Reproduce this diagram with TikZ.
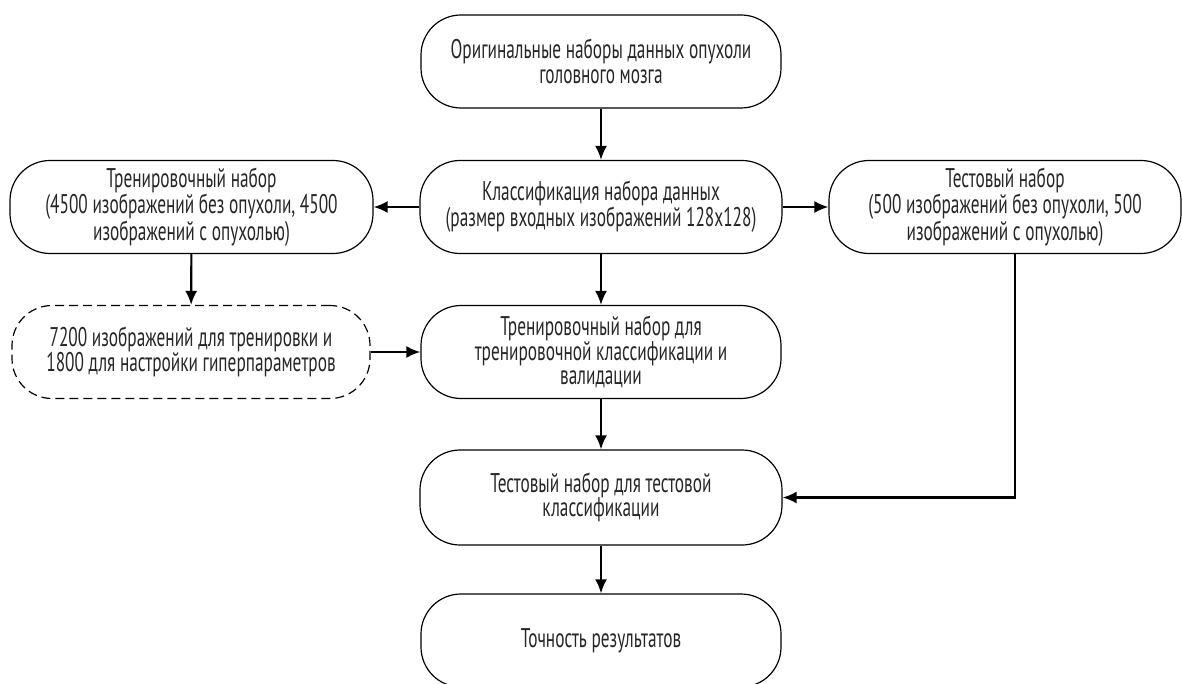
\documentclass[tikz,border=0pt]{standalone}
\usepackage{fontspec}
\setmainfont[FakeStretch=0.64]{PT Sans}
\usetikzlibrary{arrows.meta}
\begin{document}
\begin{tikzpicture}[x=1pt,y=-1pt,
  box/.style={draw, line width=1.2pt, rounded corners=40pt, minimum width=360pt, minimum height=93pt, align=center, font=\fontsize{27}{24.5}\selectfont, text=black!85, inner sep=0pt},
  dbox/.style={box, dash pattern=on 9pt off 5pt},
  arr/.style={line width=2.1pt, -{Latex[length=14pt,width=12pt]}}]
\useasboundingbox (0,0) rectangle (1182,684);
\node[box] (orig) at (601,61.5) {Оригинальные наборы данных опухоли\\головного мозга};
\node[box, minimum width=363pt] (train) at (191.5,207) {Тренировочный набор\\(4500 изображений без опухоли, 4500\\изображений с опухолью)};
\node[box, minimum width=362pt] (cls) at (601,207) {Классификация набора данных\\(размер входных изображений 128x128)};
\node[box, minimum width=352pt] (test) at (1005,207) {Тестовый набор\\(500 изображений без опухоли, 500\\изображений с опухолью)};
\node[dbox, minimum width=358pt] (split) at (191,352) {7200 изображений для тренировки и\\1800 для настройки гиперпараметров};
\node[box] (tcls) at (601,352) {Тренировочный набор для\\тренировочной классификации и\\валидации};
\node[box, minimum width=362pt, minimum height=95pt] (ecls) at (601,497.5) {Тестовый набор для тестовой\\классификации};
\node[box] (acc) at (601,640.5) {Точность результатов};
\coordinate (corner) at (1015,497.5);
\draw[arr] (orig) -- (cls);
\draw[arr] (cls) -- (train);
\draw[arr] (cls) -- (test);
\draw[arr] (train) -- (split);
\draw[arr] (split) -- (tcls);
\draw[arr] (cls) -- (tcls);
\draw[arr] (tcls) -- (ecls);
\draw[arr] (test.south -| corner) -- (corner) -- (ecls.east);
\draw[arr] (ecls) -- (acc);
\end{tikzpicture}
\end{document}
